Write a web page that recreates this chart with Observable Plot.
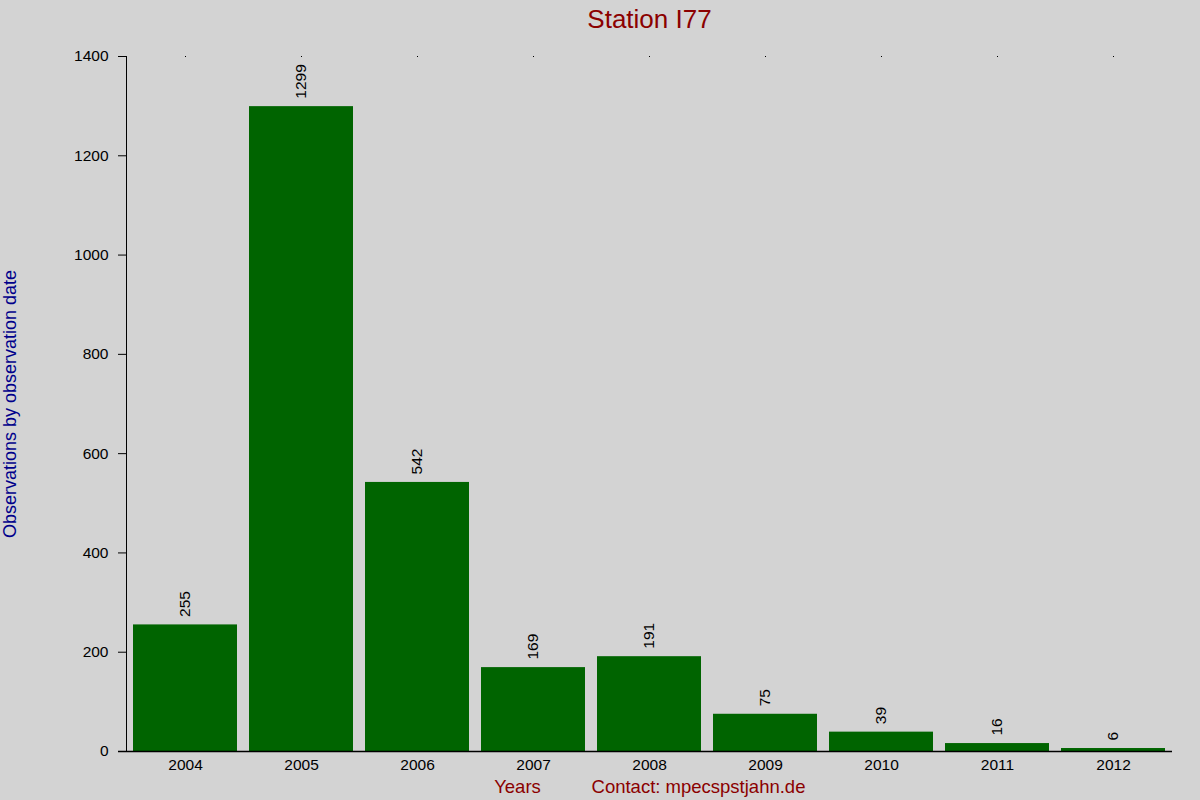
<!DOCTYPE html>
<html><head><meta charset="utf-8">
<script src="https://cdn.jsdelivr.net/npm/d3@7"></script>
<script src="https://cdn.jsdelivr.net/npm/@observablehq/plot@0.6"></script>
<style>
html,body{margin:0;padding:0;background:#d3d3d3;}
#chart svg{display:block;}
</style>
</head><body><div id="chart"></div>
<script>
const years = ["2004","2005","2006","2007","2008","2009","2010","2011","2012"];
const counts = [255,1299,542,169,191,75,39,16,6];
const yTicks = [0,200,400,600,800,1000,1200,1400];
const title = "Station I77";
const yLabel = "Observations by observation date";
const xLabel = "Years";
const contact = "Contact: mpecspstjahn.de";

const data = years.map((y,i)=>({year:y, count:counts[i]}));

const plot = Plot.plot({
  width: 1200, height: 800,
  marginTop: 56, marginBottom: 49, marginLeft: 126, marginRight: 28,
  style: {background:"#d3d3d3", fontFamily:"'Liberation Sans', Arial, sans-serif", fontSize:"15.5px", color:"black"},
  x: {domain: years, paddingInner: 0.1, paddingOuter: 0.05, label: null},
  y: {domain: [0,1400], label: null},
  marks: [
    Plot.barY(data, {x:"year", y:"count", fill:"#006400"}),
    Plot.text(data, {x:"year", y:"count", text:d=>String(d.count), rotate:-90, textAnchor:"start", dy:-8, fontSize:15.5, fill:"black"}),
    Plot.axisY({ticks:yTicks, tickSize:8, tickPadding:10, fontSize:15.5, tickFormat:d=>String(d), label:null}),
    Plot.frame({anchor:"left", stroke:"black"}),
    Plot.axisX({anchor:"bottom", tickSize:0, tickPadding:7, fontSize:15.5, label:null}),
    Plot.axisX({anchor:"top", tickSize:1, tickFormat:()=>"", label:null}),
    Plot.ruleY([0], {stroke:"black", strokeWidth:1.5, insetLeft:-8}),
    Plot.text([title], {frameAnchor:"top", dy:-47, fontSize:26, fill:"#8b0000", text:d=>d}),
    Plot.text([yLabel], {frameAnchor:"left", dx:-116, rotate:-90, textAnchor:"middle", fontSize:18, fill:"#00008b", text:d=>d}),
    Plot.text([xLabel], {frameAnchor:"bottom-left", dx:391, dy:41, fontSize:18.5, fill:"#8b0000", text:d=>d, textAnchor:"middle"}),
    Plot.text([contact], {frameAnchor:"bottom-left", dx:572, dy:41, fontSize:18.5, fill:"#8b0000", text:d=>d, textAnchor:"middle"})
  ]
});
document.getElementById("chart").appendChild(plot);
</script>
</body></html>
